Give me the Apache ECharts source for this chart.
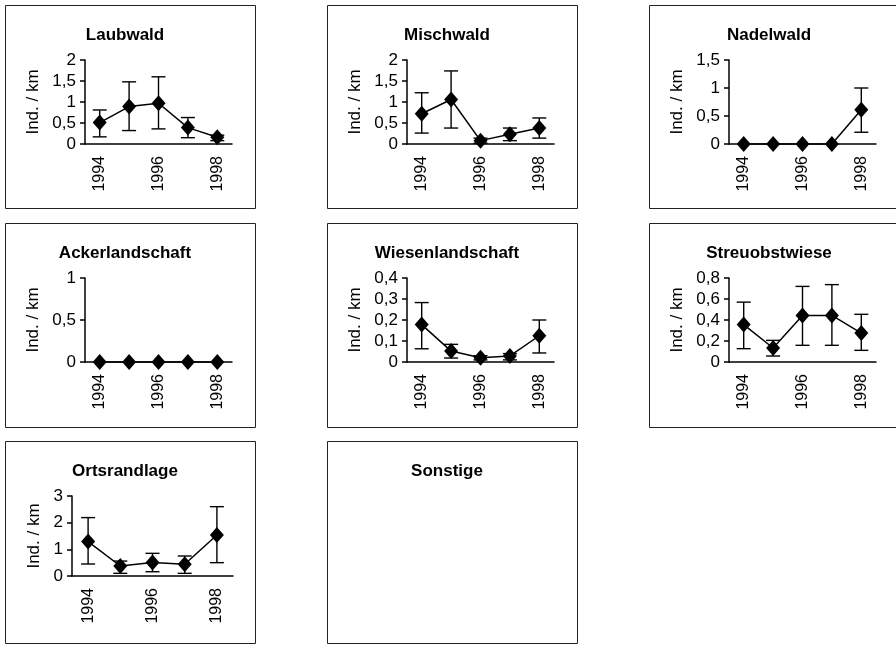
<!DOCTYPE html>
<html>
<head>
<meta charset="utf-8">
<script src="https://cdn.jsdelivr.net/npm/echarts@6/dist/echarts.min.js"></script>
<style>
  html, body { margin: 0; padding: 0; background: #fff; }
  #chart { width: 896px; height: 645px; }
</style>
</head>
<body>
<div id="chart"></div>
<script>
// Years surveyed
const years = ['1994', '1995', '1996', '1997', '1998'];

// Habitat types, one panel each
const habitats = ['Laubwald', 'Mischwald', 'Nadelwald', 'Ackerlandschaft',
                  'Wiesenlandschaft', 'Streuobstwiese', 'Ortsrandlage', 'Sonstige'];

// Mean individuals per km, with lower / upper error limits
const laubwaldMean = [0.51, 0.89, 0.97, 0.39, 0.16];
const laubwaldLow  = [0.17, 0.32, 0.36, 0.15, 0.08];
const laubwaldHigh = [0.81, 1.48, 1.60, 0.63, 0.21];

const mischwaldMean = [0.72, 1.06, 0.08, 0.23, 0.38];
const mischwaldLow  = [0.26, 0.38, 0.02, 0.08, 0.14];
const mischwaldHigh = [1.22, 1.74, 0.14, 0.38, 0.62];

const nadelwaldMean = [0, 0, 0, 0, 0.61];
const nadelwaldLow  = [null, null, null, null, 0.21];
const nadelwaldHigh = [null, null, null, null, 1.00];

const ackerMean = [0, 0, 0, 0, 0];
const ackerLow  = [null, null, null, null, null];
const ackerHigh = [null, null, null, null, null];

const wiesenMean = [0.178, 0.052, 0.020, 0.029, 0.125];
const wiesenLow  = [0.063, 0.019, 0.010, 0.010, 0.043];
const wiesenHigh = [0.283, 0.084, 0.030, 0.040, 0.200];

const streuobstMean = [0.356, 0.133, 0.444, 0.444, 0.276];
const streuobstLow  = [0.127, 0.057, 0.159, 0.159, 0.111];
const streuobstHigh = [0.570, 0.206, 0.720, 0.737, 0.454];

const ortsrandMean = [1.29, 0.375, 0.51, 0.44, 1.54];
const ortsrandLow  = [0.45, 0.10, 0.16, 0.10, 0.50];
const ortsrandHigh = [2.19, 0.56, 0.85, 0.75, 2.60];

// Value axis ranges per panel
const yAxisMax  = [2, 2, 1.5, 1, 0.4, 0.8, 3];
const yAxisStep = [0.5, 0.5, 0.5, 0.5, 0.1, 0.2, 1];

const yName = 'Ind. / km';

const panelSeries = [
  [laubwaldMean, laubwaldLow, laubwaldHigh],
  [mischwaldMean, mischwaldLow, mischwaldHigh],
  [nadelwaldMean, nadelwaldLow, nadelwaldHigh],
  [ackerMean, ackerLow, ackerHigh],
  [wiesenMean, wiesenLow, wiesenHigh],
  [streuobstMean, streuobstLow, streuobstHigh],
  [ortsrandMean, ortsrandLow, ortsrandHigh]
];

// ---- layout ----
const FONT = '"Liberation Sans", Arial, sans-serif';
const colX = [5, 327, 649];
const rowY = [5, 223, 441];
const rowH = [203, 204, 202];
const PANEL_W = 250;

function plotBox(i) {
  if (i === 6) return { dx: 67, dy: 55, w: 161, h: 80, nameGap: 29 };
  return { dx: 80, dy: 55, w: 147, h: 84, nameGap: 43 };
}

const grids = [], xAxes = [], yAxes = [], series = [], graphics = [];

habitats.forEach((name, i) => {
  const col = i % 3, row = Math.floor(i / 3);
  const px = colX[col], py = rowY[row];

  graphics.push({
    type: 'rect',
    shape: { x: px + 0.5, y: py + 0.5, width: PANEL_W, height: rowH[row] },
    style: { fill: 'none', stroke: '#222', lineWidth: 1 },
    silent: true
  });
  graphics.push({
    type: 'text',
    x: px + 120, y: py + 30,
    style: {
      text: name, fill: '#000', font: 'bold 17px ' + FONT,
      textAlign: 'center', textVerticalAlign: 'middle'
    },
    silent: true
  });
});

panelSeries.forEach((s, i) => {
  const col = i % 3, row = Math.floor(i / 3);
  const px = colX[col], py = rowY[row];
  const b = plotBox(i);
  const [mean, low, high] = s;

  grids.push({ left: px + b.dx, top: py + b.dy, width: b.w, height: b.h, containLabel: false });

  xAxes.push({
    type: 'category', gridIndex: i, data: years, boundaryGap: true,
    axisLine: { lineStyle: { color: '#000', width: 1.5 } },
    axisTick: { interval: 0, length: 5, lineStyle: { color: '#000', width: 1.5 } },
    axisLabel: { interval: 1, rotate: 90, margin: 12, color: '#000', fontSize: 16, fontFamily: FONT },
    splitLine: { show: false }
  });

  yAxes.push({
    type: 'value', gridIndex: i, min: 0, max: yAxisMax[i], interval: yAxisStep[i],
    name: yName, nameLocation: 'middle', nameGap: b.nameGap,
    nameTextStyle: { color: '#000', fontSize: 17, fontFamily: FONT },
    axisLine: { show: true, lineStyle: { color: '#000', width: 1.5 } },
    axisTick: { show: true, length: 5, lineStyle: { color: '#000', width: 1.5 } },
    axisLabel: {
      margin: 9, color: '#000', fontSize: 17, fontFamily: FONT,
      formatter: v => String(Math.round(v * 100) / 100).replace('.', ',')
    },
    splitLine: { show: false }
  });

  const errData = [];
  years.forEach((y, k) => {
    if (low[k] != null && high[k] != null) errData.push([k, low[k], high[k]]);
  });

  series.push({
    type: 'custom', xAxisIndex: i, yAxisIndex: i, data: errData, z: 2, clip: false,
    renderItem: (params, api) => {
      const lo = api.coord([api.value(0), api.value(1)]);
      const hi = api.coord([api.value(0), api.value(2)]);
      const half = 7;
      const st = { stroke: '#000', lineWidth: 1.4 };
      return {
        type: 'group',
        children: [
          { type: 'line', shape: { x1: lo[0], y1: lo[1], x2: hi[0], y2: hi[1] }, style: st },
          { type: 'line', shape: { x1: lo[0] - half, y1: lo[1], x2: lo[0] + half, y2: lo[1] }, style: st },
          { type: 'line', shape: { x1: hi[0] - half, y1: hi[1], x2: hi[0] + half, y2: hi[1] }, style: st }
        ]
      };
    }
  });

  series.push({
    type: 'line', xAxisIndex: i, yAxisIndex: i, data: mean, z: 3, clip: false,
    symbol: 'diamond', symbolSize: [14, 16], showAllSymbol: true,
    lineStyle: { color: '#000', width: 1.5 },
    itemStyle: { color: '#000', borderWidth: 0 },
    emphasis: { disabled: true },
    animation: false
  });
});

const chart = echarts.init(document.getElementById('chart'), null, { renderer: 'canvas' });
chart.setOption({
  animation: false,
  backgroundColor: '#fff',
  textStyle: { fontFamily: FONT },
  grid: grids,
  xAxis: xAxes,
  yAxis: yAxes,
  series: series,
  graphic: graphics
});
</script>
</body>
</html>
